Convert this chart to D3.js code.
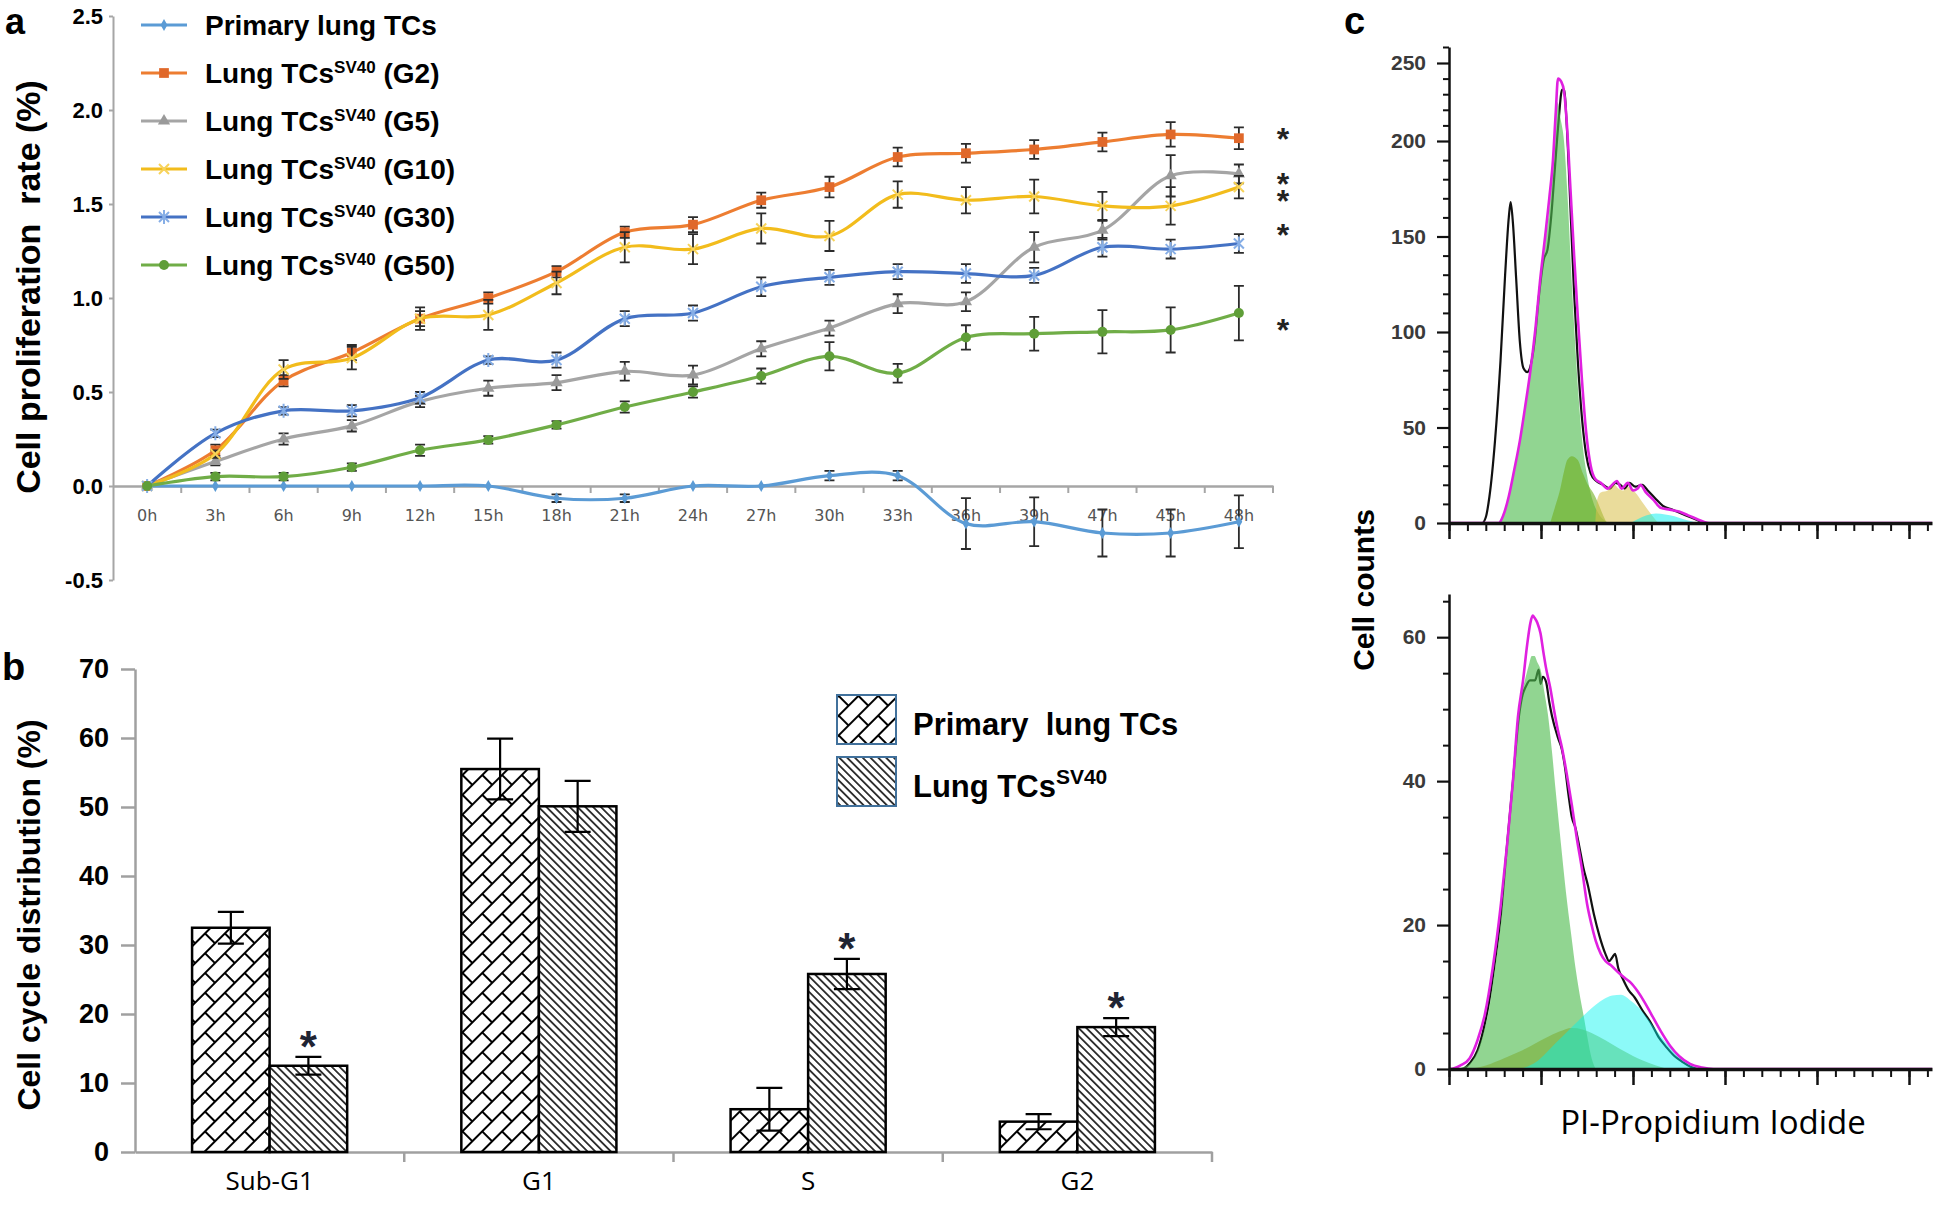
<!DOCTYPE html>
<html>
<head>
<meta charset="utf-8">
<script src="https://cdn.jsdelivr.net/npm/d3@7"></script>
<style>
  body { margin: 0; background: #fff; }
  svg { display: block; }
</style>
</head>
<body>
<div id="fig"></div>
<script>
// ---------- panel a: proliferation time course ----------
var hours = ["0h","3h","6h","9h","12h","15h","18h","21h","24h","27h","30h","33h","36h","39h","47h","45h","48h"];

var primary    = [0, 0, 0, 0, 0, 0, -0.065, -0.065, 0, 0, 0.055, 0.055, -0.2, -0.19, -0.25, -0.25, -0.19];
var primaryErr = [0, 0, 0, 0, 0, 0, 0.02, 0.02, 0, 0, 0.025, 0.025, 0.135, 0.13, 0.125, 0.125, 0.14];
var g2         = [0, 0.19, 0.56, 0.71, 0.89, 1.0, 1.14, 1.35, 1.39, 1.52, 1.59, 1.75, 1.77, 1.79, 1.83, 1.87, 1.85];
var g2Err      = [0, 0.03, 0.03, 0.04, 0.04, 0.03, 0.03, 0.03, 0.04, 0.04, 0.055, 0.05, 0.05, 0.05, 0.05, 0.065, 0.058];
var g5         = [0, 0.13, 0.25, 0.32, 0.45, 0.52, 0.55, 0.61, 0.59, 0.73, 0.84, 0.97, 0.98, 1.27, 1.36, 1.65, 1.66];
var g5Err      = [0, 0.02, 0.03, 0.03, 0.03, 0.04, 0.04, 0.05, 0.05, 0.04, 0.04, 0.05, 0.05, 0.08, 0.05, 0.11, 0.05];
var g10        = [0, 0.17, 0.62, 0.68, 0.89, 0.91, 1.08, 1.27, 1.26, 1.37, 1.33, 1.55, 1.52, 1.54, 1.49, 1.49, 1.59];
var g10Err     = [0, 0.02, 0.05, 0.06, 0.06, 0.08, 0.06, 0.08, 0.08, 0.08, 0.08, 0.07, 0.07, 0.09, 0.075, 0.1, 0.06];
var g30        = [0, 0.28, 0.4, 0.4, 0.47, 0.67, 0.67, 0.89, 0.92, 1.06, 1.11, 1.14, 1.13, 1.12, 1.27, 1.26, 1.29];
var g30Err     = [0, 0.02, 0.02, 0.03, 0.03, 0.02, 0.04, 0.04, 0.04, 0.05, 0.04, 0.04, 0.05, 0.04, 0.05, 0.05, 0.05];
var g50        = [0, 0.05, 0.05, 0.1, 0.19, 0.245, 0.325, 0.42, 0.5, 0.585, 0.69, 0.6, 0.79, 0.81, 0.82, 0.83, 0.92];
var g50Err     = [0, 0.02, 0.02, 0.02, 0.03, 0.02, 0.02, 0.03, 0.03, 0.04, 0.075, 0.05, 0.065, 0.09, 0.115, 0.12, 0.145];
var passages   = [null, "G2", "G5", "G10", "G30", "G50"];
// asterisks at the right end of panel a (significance marks)
var starLevelsA = [1.89, 1.65, 1.56, 1.38, 0.87];

// ---------- panel b: cell cycle distribution ----------
var phases     = ["Sub-G1", "G1", "S", "G2"];
var primaryPct = [32.5, 55.5, 6.2, 4.4];
var primarySd  = [2.3, 4.4, 3.1, 1.1];
var sv40Pct    = [12.5, 50.1, 25.8, 18.1];
var sv40Sd     = [1.3, 3.7, 2.2, 1.3];
var sv40Star   = [true, false, true, true];

// ---------- panel c: PI histograms [channel, count] ----------
var topBlack = [[0,0],[72,0],[80,3],[88,14],[100,43],[112,85],[122,130],[130,160],[134,168],[139,157],[146,128],[154,95],[162,81],[170,79],[178,83],[186,95],[196,120],[206,138],[214,143],[222,160],[230,185],[238,212],[246,233],[250,233],[256,210],[264,165],[272,120],[280,85],[289,55],[298,36],[308,26],[320,22],[335,20],[350,18],[362,21],[372,20],[382,18],[392,21],[405,19],[420,20],[432,17],[448,13],[465,9],[485,7],[505,5],[525,3],[545,1],[560,0],[1050,0]];
var topMagenta = [[0,0],[108,0],[118,4],[130,14],[142,28],[154,43],[165,60],[176,78],[188,102],[198,127],[209,150],[218,170],[226,190],[232,218],[237,240],[244,238],[250,232],[256,212],[264,175],[272,140],[280,108],[289,75],[298,48],[308,30],[318,23],[330,21],[345,18],[355,20],[365,22],[375,18],[389,21],[400,17],[410,18],[416,20],[428,16],[445,12],[460,8],[480,7],[500,6],[520,4],[540,2],[555,0.5],[565,0],[1050,0]];
var topG1 = [[108,0],[118,4],[130,14],[142,28],[154,43],[165,60],[176,78],[188,102],[198,125],[209,146],[218,165],[226,188],[232,215],[236,225],[242,215],[250,200],[258,170],[266,130],[274,95],[282,65],[290,42],[300,25],[312,12],[325,5],[340,1],[350,0]];
var topS = [[220,0],[230,8],[241,17],[250,27],[257,33],[267,35],[280,33],[291,26],[302,20],[313,16],[325,10],[335,4],[343,0]];
var topYellow = [[318,0],[322,12],[330,16],[345,17],[360,20],[368,18],[378,17],[390,19],[405,16],[420,11],[435,6],[448,2],[455,0]];
var topCyan = [[395,0],[410,2],[430,4],[450,5],[470,4.5],[490,3.5],[510,2],[525,1],[540,0]];

var botBlack = [[0,0],[28,0],[45,0.8],[62,2.6],[75,5.5],[87,9.3],[100,15],[113,21.6],[126,31],[139,40],[152,49],[160,52],[166,53],[176,54],[187,54],[195,55.5],[199,53.5],[204,54.5],[211,53.8],[218,51],[224,49],[237,46],[245,44.5],[252,42],[260,38],[267,35],[275,33.5],[283,31],[292,28],[302,25.5],[315,21.5],[327,18.5],[340,16],[348,15],[355,15.5],[361,16],[368,14],[378,12.5],[390,11],[404,9.9],[420,8.2],[439,6.4],[455,4.5],[473,3],[490,1.8],[507,1],[525,0.3],[541,0],[1050,0]];
var botMagenta = [[0,0],[2,0],[25,0.5],[45,1.5],[62,4],[78,7.6],[95,14],[113,23],[126,31],[139,40],[150,49],[161,54],[170,59],[177,62],[182,63],[186,62.7],[192,62],[199,60.5],[205,58],[211,55.7],[220,53],[228,50],[237,47],[246,44.5],[256,41],[267,36.7],[278,32],[289,27.8],[300,23],[310,20],[319,17.8],[330,16],[340,15],[352,14.4],[370,13.3],[385,12.5],[395,12],[410,10.8],[425,9.3],[439,7.7],[460,5.3],[481,3.2],[500,1.8],[524,0.7],[550,0.2],[575,0],[1050,0]];
var botG1 = [[8,0],[40,0.5],[62,2.5],[75,5],[87,8.3],[100,14],[113,20.5],[126,30],[139,39],[148,46],[156,51.5],[165,54],[173,56],[180,57.4],[186,57.4],[192,56.5],[199,55.5],[207,52.5],[215,49.3],[224,44],[232,38.6],[243,31.5],[254,24.7],[265,19],[276,13.6],[285,10],[293,7.3],[302,4],[310,1.5],[319,0]];
var botS = [[40,0],[80,0.5],[120,1.5],[160,2.6],[210,4.3],[240,5.2],[267,5.7],[290,5.5],[310,5],[340,4],[380,2.5],[420,1.2],[450,0.5],[475,0]];
var botCyan = [[156,0],[190,1],[232,3.6],[270,6],[302,8],[336,9.7],[355,10.2],[374,10.3],[393,9.6],[413,8.5],[430,7.2],[447,5.7],[470,3.8],[490,2.4],[510,1.2],[532,0.3],[545,0]];

var width = 1937, height = 1211;
var sans = "'Liberation Sans', Arial, sans-serif";
var soft = "'Open Sans', 'Liberation Sans', sans-serif";

var svg = d3.select("#fig").append("svg")
  .attr("width", width)
  .attr("height", height);
svg.append("rect").attr("width", width).attr("height", height).attr("fill", "#fff");

var defs = svg.append("defs");
// primary: diagonal brick hatch
var brick = defs.append("pattern").attr("id", "brick")
  .attr("patternUnits", "userSpaceOnUse").attr("width", 28).attr("height", 28)
  .attr("patternTransform", "rotate(-45)");
brick.append("rect").attr("width", 28).attr("height", 28).attr("fill", "#fff");
brick.append("path").attr("d", "M0,7H28M0,21H28M3,7V21M17,21V28M17,0V7")
  .attr("stroke", "#000").attr("stroke-width", 2).attr("fill", "none");
// SV40: dense downward diagonal
var diag = defs.append("pattern").attr("id", "diag")
  .attr("patternUnits", "userSpaceOnUse").attr("width", 5.5).attr("height", 10)
  .attr("patternTransform", "rotate(-45)");
diag.append("rect").attr("width", 5.5).attr("height", 10).attr("fill", "#fff");
diag.append("line").attr("x1", 2.75).attr("x2", 2.75).attr("y1", 0).attr("y2", 10)
  .attr("stroke", "#000").attr("stroke-width", 1.5);

function styleText(sel, size, weight, fill, family) {
  sel.attr("font-family", family || sans).attr("font-size", size)
    .attr("font-weight", weight || "normal").attr("fill", fill || "#000");
}

// =================== panel a ===================
var ya = d3.scaleLinear().domain([-0.5, 2.5]).range([580, 16]);
var xa = d3.scaleBand().domain(hours).range([113, 1273]);
var cx = function(i) { return xa(hours[i]) + xa.bandwidth() / 2; };

var ga = svg.append("g");

ga.append("g")
  .attr("transform", "translate(113,0)")
  .call(d3.axisLeft(ya).tickValues(d3.range(-0.5, 2.51, 0.5))
    .tickFormat(function(d) { return d.toFixed(1); })
    .tickSize(4).tickSizeOuter(0).tickPadding(6))
  .call(function(g) {
    g.select(".domain").attr("stroke", "#a6a6a6").attr("stroke-width", 2);
    g.selectAll(".tick line").attr("stroke", "#a6a6a6").attr("stroke-width", 2);
    styleText(g.selectAll("text"), 22, "bold", "#000");
  });

ga.append("g")
  .attr("transform", "translate(0," + ya(0) + ")")
  .call(d3.axisBottom(xa).tickSize(0).tickSizeOuter(0).tickPadding(24))
  .call(function(g) {
    g.select(".domain").attr("stroke", "#a6a6a6").attr("stroke-width", 2.5);
    styleText(g.selectAll("text"), 16, "normal", "#555", "'DejaVu Sans', sans-serif");
  });

// tick marks between the categories
var bounds = hours.slice(1).map(function(h) { return xa(h); }).concat([xa.range()[1]]);
ga.append("g").selectAll("line").data(bounds).join("line")
  .attr("x1", function(d) { return d; }).attr("x2", function(d) { return d; })
  .attr("y1", ya(0)).attr("y2", ya(0) + 7)
  .attr("stroke", "#a6a6a6").attr("stroke-width", 2);

var seriesA = [
  { values: primary, err: primaryErr, color: "#5B9BD5", mcolor: "#5B9BD5", marker: "diamond" },
  { values: g2,  err: g2Err,  color: "#ED7D31", mcolor: "#E0682A", marker: "square" },
  { values: g5,  err: g5Err,  color: "#A5A5A5", mcolor: "#9a9a9a", marker: "triangle" },
  { values: g10, err: g10Err, color: "#F2BC1C", mcolor: "#F7D35A", marker: "cross" },
  { values: g30, err: g30Err, color: "#4472C4", mcolor: "#86AEE6", marker: "star" },
  { values: g50, err: g50Err, color: "#70AD47", mcolor: "#5F9E38", marker: "circle" }
];

function drawMarker(g, type, color, x, y) {
  var t = "translate(" + x + "," + y + ")";
  if (type === "diamond") {
    g.append("path").attr("d", d3.symbol(d3.symbolDiamond, 40)()).attr("transform", t).attr("fill", color);
  } else if (type === "square") {
    g.append("path").attr("d", d3.symbol(d3.symbolSquare, 95)()).attr("transform", t).attr("fill", color);
  } else if (type === "triangle") {
    g.append("path").attr("d", d3.symbol(d3.symbolTriangle, 65)()).attr("transform", t).attr("fill", color);
  } else if (type === "cross") {
    g.append("path").attr("d", "M-5,-5L5,5M-5,5L5,-5").attr("transform", t)
      .attr("stroke", color).attr("stroke-width", 2).attr("fill", "none");
  } else if (type === "star") {
    g.append("path").attr("d", "M-5,-5L5,5M-5,5L5,-5M0,-7V7").attr("transform", t)
      .attr("stroke", color).attr("stroke-width", 2).attr("fill", "none");
  } else {
    g.append("circle").attr("cx", x).attr("cy", y).attr("r", 5).attr("fill", color);
  }
}

var lineA = d3.line()
  .x(function(d, i) { return cx(i); })
  .y(function(d) { return ya(d); })
  .curve(d3.curveCatmullRom.alpha(0.5));

seriesA.forEach(function(s) {
  var g = ga.append("g");
  g.append("path").datum(s.values).attr("d", lineA)
    .attr("fill", "none").attr("stroke", s.color).attr("stroke-width", 3.2);
  s.values.forEach(function(v, i) {
    var e = s.err[i];
    if (e > 0) {
      var x = cx(i), top = ya(v + e), bot = ya(v - e);
      g.append("path")
        .attr("d", "M" + x + "," + top + "V" + bot + "M" + (x - 5) + "," + top + "H" + (x + 5) + "M" + (x - 5) + "," + bot + "H" + (x + 5))
        .attr("stroke", "#2b2b2b").attr("stroke-width", 1.8).attr("fill", "none");
    }
    drawMarker(g, s.marker, s.mcolor, cx(i), ya(v));
  });
});

// legend a
var legA = ga.append("g");
seriesA.forEach(function(s, i) {
  var y = 25 + i * 48;
  legA.append("line").attr("x1", 141).attr("x2", 187).attr("y1", y).attr("y2", y)
    .attr("stroke", s.color).attr("stroke-width", 3.2);
  drawMarker(legA, s.marker, s.mcolor, 164, y);
  var t = legA.append("text").attr("x", 205).attr("y", y + 10);
  styleText(t, 28, "bold", "#000");
  if (passages[i] === null) {
    t.text("Primary lung TCs");
  } else {
    t.append("tspan").text("Lung TCs");
    t.append("tspan").attr("font-size", 17).attr("dy", -10).text("SV40");
    t.append("tspan").attr("dy", 10).text(" (" + passages[i] + ")");
  }
});

ga.append("g").selectAll("text").data(starLevelsA).join("text")
  .attr("x", 1283).attr("y", function(d) { return ya(d) + 19; })
  .attr("text-anchor", "middle").text("*")
  .call(styleText, 32, "bold", "#222");

var tA = ga.append("text")
  .attr("transform", "translate(40,287) rotate(-90)")
  .attr("text-anchor", "middle").text("Cell proliferation  rate (%)")
  .style("white-space", "pre");
styleText(tA, 34, "bold", "#000");

var la = ga.append("text").attr("x", 5).attr("y", 34).text("a");
styleText(la, 36, "bold", "#000");

// =================== panel b ===================
var yb = d3.scaleLinear().domain([0, 70]).range([1152, 669]);
var xb = d3.scaleBand().domain(phases).range([135, 1212]).paddingInner(0.424).paddingOuter(0.212);
var bw = xb.bandwidth() / 2;

var gb = svg.append("g");

gb.append("g")
  .attr("transform", "translate(135,0)")
  .call(d3.axisLeft(yb).tickValues(d3.range(0, 71, 10)).tickSize(14).tickSizeOuter(0).tickPadding(12))
  .call(function(g) {
    g.select(".domain").attr("stroke", "#a0a0a0").attr("stroke-width", 2.5);
    g.selectAll(".tick line").attr("stroke", "#a0a0a0").attr("stroke-width", 2.5);
    styleText(g.selectAll("text"), 27, "bold", "#000");
  });

gb.append("g")
  .attr("transform", "translate(0," + yb(0) + ")")
  .call(d3.axisBottom(xb).tickSize(0).tickSizeOuter(0).tickPadding(20))
  .call(function(g) {
    g.select(".domain").attr("stroke", "#a0a0a0").attr("stroke-width", 2.5);
    styleText(g.selectAll("text"), 26, "normal", "#000", soft);
  });

gb.append("g").selectAll("line").data(phases).join("line")
  .attr("x1", function(d) { return xb(d) + xb.bandwidth() / 2 + xb.step() / 2; })
  .attr("x2", function(d) { return xb(d) + xb.bandwidth() / 2 + xb.step() / 2; })
  .attr("y1", yb(0)).attr("y2", yb(0) + 10)
  .attr("stroke", "#a0a0a0").attr("stroke-width", 2.5);

var groupsB = [
  { values: primaryPct, sd: primarySd, fill: "url(#brick)", off: 0 },
  { values: sv40Pct, sd: sv40Sd, fill: "url(#diag)", off: 1 }
];

groupsB.forEach(function(s) {
  var g = gb.append("g");
  g.selectAll("rect").data(s.values).join("rect")
    .attr("x", function(d, i) { return xb(phases[i]) + s.off * bw; })
    .attr("y", function(d) { return yb(d); })
    .attr("width", bw)
    .attr("height", function(d) { return yb(0) - yb(d); })
    .attr("fill", s.fill).attr("stroke", "#000").attr("stroke-width", 2.5);
  g.selectAll("path.err").data(s.values).join("path").attr("class", "err")
    .attr("d", function(d, i) {
      var x = xb(phases[i]) + s.off * bw + bw / 2;
      var top = yb(d + s.sd[i]), bot = yb(d - s.sd[i]);
      return "M" + x + "," + top + "V" + bot + "M" + (x - 13) + "," + top + "H" + (x + 13) +
        "M" + (x - 13) + "," + bot + "H" + (x + 13);
    })
    .attr("stroke", "#000").attr("stroke-width", 2.2).attr("fill", "none");
});

gb.append("g").selectAll("text").data(sv40Pct).join("text")
  .filter(function(d, i) { return sv40Star[i]; })
  .attr("x", function(d) { var i = sv40Pct.indexOf(d); return xb(phases[i]) + bw * 1.5; })
  .attr("y", function(d) { var i = sv40Pct.indexOf(d); return yb(d + sv40Sd[i]) - 20 + 25; })
  .attr("text-anchor", "middle").text("*")
  .call(styleText, 44, "bold", "#1f2433");

// legend b
var legB = gb.append("g");
[{ fill: "url(#brick)", label: "Primary  lung TCs" }, { fill: "url(#diag)", label: "Lung TCs" }]
  .forEach(function(d, i) {
    var y = 695 + i * 62;
    legB.append("rect").attr("x", 837).attr("y", y).attr("width", 59).attr("height", 49)
      .attr("fill", d.fill).attr("stroke", "#41719C").attr("stroke-width", 2);
    var t = legB.append("text").attr("x", 913).attr("y", y + 40).style("white-space", "pre");
    styleText(t, 31, "bold", "#000");
    t.append("tspan").text(d.label);
    if (i === 1) t.append("tspan").attr("font-size", 21).attr("dy", -13).text("SV40");
  });

var tB = gb.append("text")
  .attr("transform", "translate(40,915) rotate(-90)")
  .attr("text-anchor", "middle").text("Cell cycle distribution (%)");
styleText(tB, 32, "bold", "#000");

var lb = gb.append("text").attr("x", 2).attr("y", 680).text("b");
styleText(lb, 38, "bold", "#000");

// =================== panel c ===================
var xc = d3.scaleLinear().domain([0, 1050]).range([1449, 1932]);
var ycTop = d3.scaleLinear().domain([0, 200, 250, 260]).range([523, 141, 63, 47]);
var ycBot = d3.scaleLinear().domain([0, 66]).range([1069, 594]);

var gc = svg.append("g");

function histogram(ys, major, minor, black, magenta, fills) {
  var g = gc.append("g");
  var y0 = ys(0);

  var line = d3.line().x(function(d) { return xc(d[0]); }).y(function(d) { return ys(d[1]); })
    .curve(d3.curveMonotoneX);
  var area = d3.area().x(function(d) { return xc(d[0]); }).y0(y0).y1(function(d) { return ys(d[1]); })
    .curve(d3.curveMonotoneX);

  g.append("path").datum(black).attr("d", line)
    .attr("fill", "none").attr("stroke", "#111").attr("stroke-width", 2.2);
  fills.forEach(function(f) {
    g.append("path").datum(f.data).attr("d", area)
      .attr("fill", f.color).attr("fill-opacity", f.opacity);
  });
  g.append("path").datum(magenta).attr("d", line)
    .attr("fill", "none").attr("stroke", "#E020E0").attr("stroke-width", 2.6);

  // y axis
  g.append("g").attr("transform", "translate(" + xc(0) + ",0)")
    .call(d3.axisLeft(ys).tickValues(minor).tickSize(6).tickSizeOuter(0).tickFormat(""))
    .call(function(a) {
      a.select(".domain").attr("stroke", "#111").attr("stroke-width", 2.5);
      a.selectAll(".tick line").attr("stroke", "#111").attr("stroke-width", 2);
    });
  g.append("g").attr("transform", "translate(" + xc(0) + ",0)")
    .call(d3.axisLeft(ys).tickValues(major).tickSize(12).tickSizeOuter(0).tickPadding(11))
    .call(function(a) {
      a.select(".domain").remove();
      a.selectAll(".tick line").attr("stroke", "#111").attr("stroke-width", 2.2);
      styleText(a.selectAll("text"), 21, "bold", "#3a3a3a");
    });

  // x axis
  g.append("g").attr("transform", "translate(0," + y0 + ")")
    .call(d3.axisBottom(xc).tickValues(d3.range(0, 1041, 40)).tickSize(8).tickSizeOuter(0).tickFormat(""))
    .call(function(a) {
      a.select(".domain").attr("stroke", "#111").attr("stroke-width", 3.5);
      a.selectAll(".tick line").attr("stroke", "#111").attr("stroke-width", 2);
    });
  g.append("g").attr("transform", "translate(0," + y0 + ")")
    .call(d3.axisBottom(xc).tickValues(d3.range(0, 1001, 200)).tickSize(16).tickSizeOuter(0).tickFormat(""))
    .call(function(a) {
      a.select(".domain").remove();
      a.selectAll(".tick line").attr("stroke", "#111").attr("stroke-width", 2.5);
    });
}

histogram(ycTop,
  [0, 50, 100, 150, 200, 250],
  d3.range(10, 261, 10).filter(function(d) { return d % 50 !== 0; }),
  topBlack, topMagenta,
  [
    { data: topG1, color: "#4DBB4D", opacity: 0.62 },
    { data: topS, color: "#6FAF1E", opacity: 0.6 },
    { data: topYellow, color: "#D8C048", opacity: 0.55 },
    { data: topCyan, color: "#00F0F0", opacity: 0.5 }
  ]);

histogram(ycBot,
  [0, 20, 40, 60],
  d3.range(5, 66, 5).filter(function(d) { return d % 20 !== 0; }),
  botBlack, botMagenta,
  [
    { data: botG1, color: "#4DBB4D", opacity: 0.62 },
    { data: botS, color: "#7AA825", opacity: 0.5 },
    { data: botCyan, color: "#00F5F0", opacity: 0.45 }
  ]);

var tC = gc.append("text")
  .attr("transform", "translate(1374,590) rotate(-90)")
  .attr("text-anchor", "middle").text("Cell counts");
styleText(tC, 30, "bold", "#000");

var tX = gc.append("text").attr("x", 1713).attr("y", 1134)
  .attr("text-anchor", "middle").text("PI-Propidium Iodide");
styleText(tX, 33, "normal", "#000", soft);

var lc = gc.append("text").attr("x", 1344).attr("y", 34).text("c");
styleText(lc, 38, "bold", "#000");
</script>
</body>
</html>
